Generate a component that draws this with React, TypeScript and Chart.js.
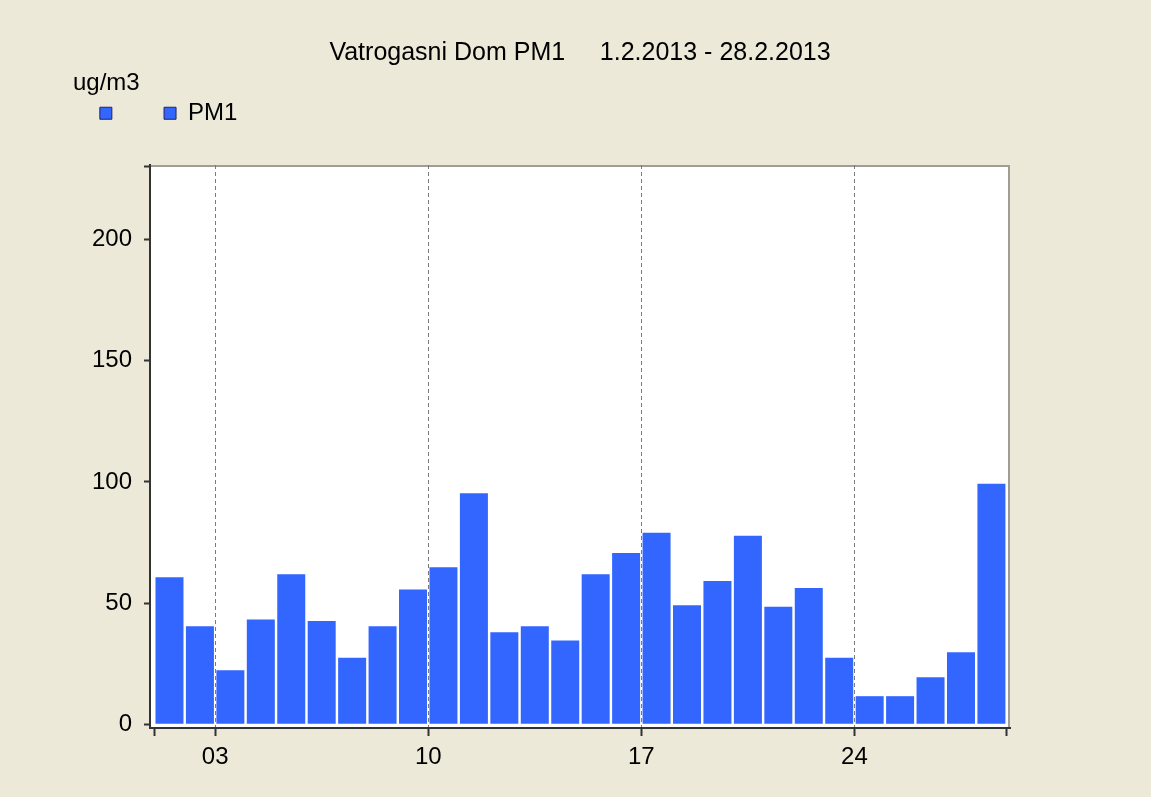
import { useEffect, useRef } from 'react';
import { Chart, registerables } from 'chart.js';

Chart.register(...registerables);

// ---- data ----
const days = [1, 2, 3, 4, 5, 6, 7, 8, 9, 10, 11, 12, 13, 14, 15, 16, 17, 18, 19, 20, 21, 22, 23, 24, 25, 26, 27, 28];
const pm1Values = [60.7, 40.5, 22.3, 43.2, 61.9, 42.6, 27.5, 40.5, 55.6, 64.8, 95.3, 38.0, 40.5, 34.6, 61.9, 70.7, 79.0, 49.1, 59.1, 77.8, 48.5, 56.2, 27.5, 11.6, 11.6, 19.4, 29.7, 99.3];
const xTickValues = [2, 9, 16, 23];
const xTickLabels = ['03', '10', '17', '24'];
const yTickValues = [0, 50, 100, 150, 200];
const yTopTick = 230;
const titleText = 'Vatrogasni Dom PM1     1.2.2013 - 28.2.2013';
const unitText = 'ug/m3';
const seriesName = 'PM1';

const FONT = "'Liberation Sans', Arial, sans-serif";
const BAR_COLOR = '#3366FF';
const LEGEND_BORDER = '#23235a';
const BG = '#ECE9D8';

const plotBg = {
  id: 'plotBg',
  beforeDraw(chart: any) {
    const { ctx, chartArea: a } = chart;
    ctx.save();
    ctx.fillStyle = '#ffffff';
    ctx.fillRect(a.left, a.top, a.right - a.left, a.bottom - a.top);
    ctx.strokeStyle = '#a09e94';
    ctx.lineWidth = 2;
    ctx.beginPath();
    ctx.moveTo(a.left, a.top + 1);
    ctx.lineTo(a.right - 1, a.top + 1);
    ctx.lineTo(a.right - 1, a.bottom);
    ctx.stroke();
    ctx.restore();
  },
};

export default function App() {
  const canvasRef = useRef<HTMLCanvasElement | null>(null);

  useEffect(() => {
    document.body.style.margin = '0';
    const canvas = canvasRef.current;
    if (!canvas) return;
    const chart = new Chart(canvas, {
      type: 'bar',
      data: {
        datasets: [
          {
            label: seriesName,
            data: days.map((d, i) => ({ x: d - 0.5, y: pm1Values[i] })),
            backgroundColor: BAR_COLOR,
            borderWidth: 0,
            barPercentage: 0.92,
            categoryPercentage: 1,
            xAxisID: 'x',
            yAxisID: 'y',
          },
        ],
      },
      options: {
        responsive: false,
        animation: false,
        devicePixelRatio: 1,
        layout: { padding: { left: 73, right: 141, top: 0, bottom: 0 } },
        plugins: {
          tooltip: { enabled: false },
          title: {
            display: true,
            fullSize: false,
            text: titleText,
            color: '#000',
            font: { family: FONT, size: 25, weight: 'normal' },
            padding: { top: 38.3, bottom: 0 },
          },
          legend: {
            display: true,
            position: 'top',
            align: 'start',
            onClick: () => {},
            title: {
              display: true,
              text: unitText,
              position: 'start',
              color: '#000',
              font: { family: FONT, size: 24, lineHeight: '3px' },
              padding: { top: 3.1, bottom: 0 },
            },
            labels: {
              boxWidth: 12,
              boxHeight: 12,
              padding: 26.85,
              color: '#000',
              font: { family: FONT, size: 24 },
              generateLabels: () => [
                { text: '  ', fillStyle: BAR_COLOR, strokeStyle: LEGEND_BORDER, lineWidth: 1, hidden: false, datasetIndex: 0 },
                { text: seriesName, fillStyle: BAR_COLOR, strokeStyle: LEGEND_BORDER, lineWidth: 1, hidden: false, datasetIndex: 0 },
              ],
            },
          },
        },
        scales: {
          x: {
            type: 'linear',
            position: 'bottom',
            offset: false,
            min: -0.14,
            max: 28.11,
            afterBuildTicks: (s: any) => {
              s.ticks = [0, ...xTickValues, days.length].map((v) => ({ value: v }));
            },
            afterFit: (s: any) => {
              s.height = 69;
            },
            ticks: {
              autoSkip: false,
              maxRotation: 0,
              padding: 7,
              color: '#000',
              font: { family: FONT, size: 24 },
              callback: (v: any) => {
                const i = xTickValues.indexOf(Number(v));
                return i >= 0 ? xTickLabels[i] : '';
              },
            },
            grid: {
              display: true,
              offset: false,
              drawOnChartArea: true,
              drawTicks: true,
              tickLength: 8,
              lineWidth: 1,
              color: (c: any) => (c.tick && xTickValues.includes(c.tick.value) ? '#7a7a7a' : 'rgba(0,0,0,0)'),
              tickColor: '#333',
              tickWidth: 2,
            },
            border: { display: true, color: '#333', width: 2, dash: [4, 3] },
          },
          xTop: {
            type: 'linear',
            position: 'top',
            display: true,
            offset: false,
            ticks: { display: false },
            grid: { display: false },
            border: { display: false },
            afterFit: (s: any) => {
              s.height = 29.75;
            },
          },
          y: {
            type: 'linear',
            position: 'left',
            min: -1.53,
            max: 230.8,
            afterBuildTicks: (s: any) => {
              s.ticks = [...yTickValues, yTopTick].map((v) => ({ value: v }));
            },
            afterFit: (s: any) => {
              s.width = 77;
            },
            ticks: {
              padding: 12,
              color: '#000',
              font: { family: FONT, size: 24 },
              callback: (v: any) => (yTickValues.includes(Number(v)) ? String(v) : ''),
            },
            grid: {
              display: true,
              drawOnChartArea: false,
              drawTicks: true,
              tickLength: 6,
              tickColor: '#333',
              tickWidth: 2,
            },
            border: { display: true, color: '#333', width: 2 },
          },
        },
      },
      plugins: [plotBg],
    } as any);
    return () => chart.destroy();
  }, []);

  return (
    <div style={{ position: 'fixed', left: 0, top: 0, width: 1151, height: 797, background: BG }}>
      <canvas ref={canvasRef} width={1151} height={797} style={{ display: 'block' }} />
    </div>
  );
}
